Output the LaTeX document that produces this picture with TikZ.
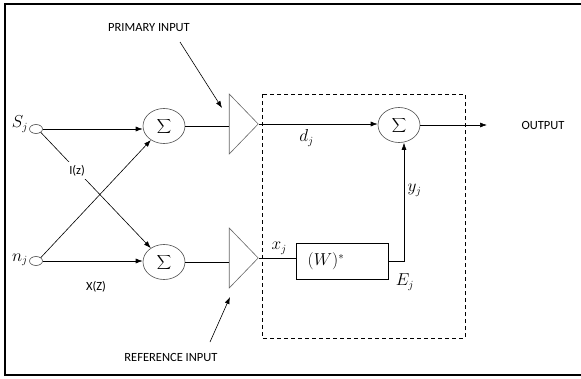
\documentclass[tikz,border=0pt]{standalone}
\usepackage{fontspec}
\setmainfont{Carlito}
\usetikzlibrary{shapes.geometric,arrows.meta}

\tikzset{
  sumnode/.style={draw=black!70, ellipse, minimum width=42pt, minimum height=35pt, inner sep=0pt,
    font=\fontsize{12}{14}\selectfont},
  ampnode/.style={draw=black!60, isosceles triangle, isosceles triangle stretches,
    minimum width=60pt, minimum height=29pt, inner sep=0pt, anchor=apex},
  tapnode/.style={draw=black!70, ellipse, minimum width=13pt, minimum height=9pt, inner sep=0pt},
  sig/.style={-{Latex[length=7pt,width=5pt]}},
  lbl/.style={font=\fontsize{12.5}{14}\selectfont},
  mlbl/.style={font=\fontsize{16}{18}\selectfont},
}

\begin{document}
\begin{tikzpicture}[x=1pt,y=-1pt,line width=0.6pt]
    \useasboundingbox (0,0) rectangle (581,378);
    % Draw frame
    \draw [line width=1.6pt] (581,4) -- (5,4) -- (5,375) -- (581,375);
    % Inputs and adders
    \node (sj) [tapnode] at (36,129) {};
    \node (nj) [tapnode] at (36,261) {};
    \node [mlbl] at (20,124) {$S_j$};
    \node [mlbl] at (20,260) {$n_j$};
    \node (sum1) [sumnode] at (164,126) {$\displaystyle\sum$};
    \node (sum2) [sumnode] at (164,262) {$\displaystyle\sum$};
    \node (amp1) [ampnode] at (259,124) {};
    \node (amp2) [ampnode] at (259,258) {};
    \node (sum3) [sumnode] at (399,125) {$\displaystyle\sum$};
    \node (wbox) [draw, minimum width=92pt, minimum height=36pt, inner sep=0pt] at (342,261) {};
    \node [mlbl] at (326,261) {$(W)^{*}$};
    \node (out) [lbl] at (543,125) {OUTPUT};
    \coordinate (outend) at (487,125);

    \draw [sig] (sj.east) -- (sum1.west |- sj.east);
    \draw [sig] (nj.east) -- (sum2.west |- nj.east);
    \draw [sig] (nj.north east) -- (sum1);
    \draw [sig] (sj.south east) -- node [lbl, fill=white, pos=0.33, inner sep=3pt] {I(z)} (sum2);
    \draw (sum1.east) -- (sum1.east -| amp1.lower side);
    \draw (sum2.east) -- (sum2.east -| amp2.lower side);
    \draw [sig] (amp1.apex) -- node [mlbl, below=2pt, pos=0.4] {$d_j$} (sum3.west |- amp1.apex);
    \draw (amp2.apex) -- node [mlbl, above, pos=0.55] {$x_j$} (wbox.west |- amp2.apex);
    \draw [sig] (wbox.east) -| node [mlbl, pos=0.8, right] {$y_j$} (sum3.south -| 404,0);
    \node [mlbl] at (405,282) {$E_j$};
    \draw [sig] (sum3.east) -- (outend);

    % Adaptive filter block
    \draw [dashed, line width=0.9pt, dash pattern=on 4pt off 3pt] (262,94) rectangle (465,338);

    % Input labels
    \node (prim) [lbl] at (149,28) {PRIMARY INPUT};
    \node (refin) [lbl] at (171,357) {REFERENCE INPUT};
    \coordinate (ps) at (180,42);
    \coordinate (pe) at (222,108);
    \coordinate (rs) at (210,342);
    \coordinate (re) at (230,297);
    \draw [sig] (ps) -- (pe);
    \draw [sig] (rs) -- (re);
    \node [lbl] at (96,287) {X(Z)};
\end{tikzpicture}
\end{document}
